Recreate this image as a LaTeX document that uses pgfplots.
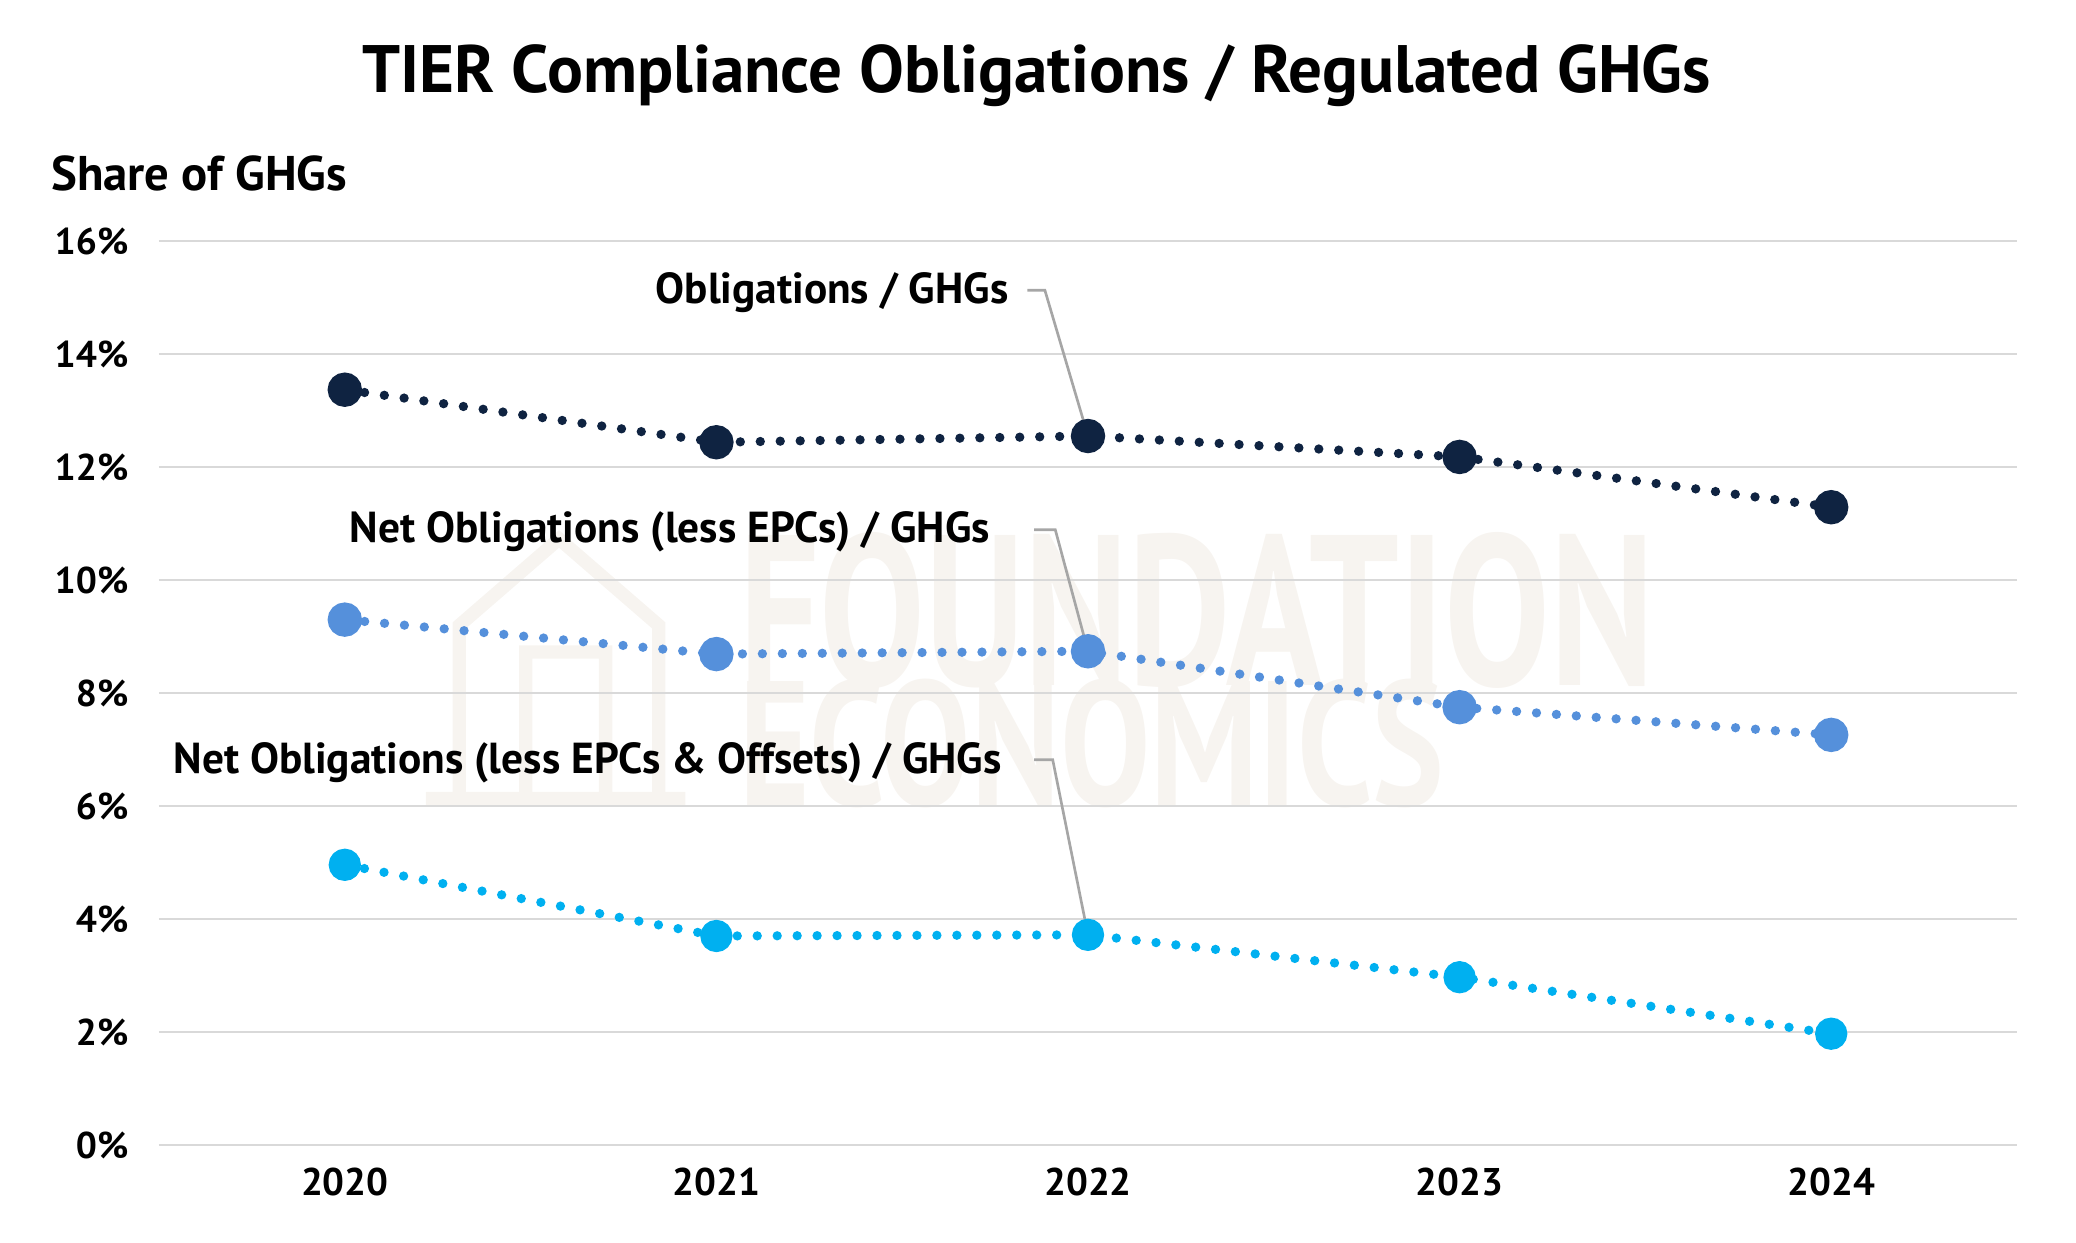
\documentclass[border=0pt]{standalone}
\usepackage{fontspec}
\setmainfont{PT Sans}
\usepackage{pgfplots}
\pgfplotsset{compat=1.18}

\definecolor{navy}{HTML}{0F2341}
\definecolor{midblue}{HTML}{5590DB}
\definecolor{skyblue}{HTML}{00B0F0}
\definecolor{leader}{HTML}{A6A6A6}
\definecolor{gridgrey}{HTML}{D9D9D9}
\definecolor{wmark}{HTML}{F7F4F0}

\newcommand{\lab}{\bfseries\fontsize{16.3}{18}\selectfont}
\newcommand{\tlab}{\bfseries\fontsize{14.5}{16}\selectfont}

\begin{document}
\begin{tikzpicture}
\path[use as bounding box] (-59.74pt,-36.45pt) rectangle (720.26pt,430.2pt);

% faint watermark
\draw[wmark, line width=5pt, line join=miter]
  (100.3pt,130.2pt) -- (197.8pt,130.2pt)
  (112.8pt,130.2pt) -- (112.8pt,195.2pt) -- (150.3pt,227.7pt) -- (187.8pt,195.2pt) -- (187.8pt,130.2pt)
  (137.8pt,130.2pt) -- (137.8pt,185.2pt) -- (167.8pt,185.2pt) -- (167.8pt,130.2pt);
\node[wmark, anchor=base west, inner sep=0pt] at (217.8pt,172.7pt)
  {\resizebox{344pt}{57.5pt}{\bfseries FOUNDATION}};
\node[wmark, anchor=base west, inner sep=0pt] at (217.8pt,127.7pt)
  {\resizebox{265pt}{47.5pt}{\bfseries ECONOMICS}};

\begin{axis}[
    at={(0,0)}, anchor=south west,
    scale only axis, width=698.1pt, height=339.6pt,
    xmin=-0.5, xmax=4.5, ymin=0, ymax=16,
    xtick={0,1,2,3,4},
    xticklabels={2020,2021,2022,2023,2024},
    ytick={0,2,...,16},
    yticklabel={\pgfmathprintnumber{\tick}\%},
    /pgf/number format/assume math mode=true,
    xticklabel style={font=\tlab, yshift=-5pt},
    yticklabel style={font=\bfseries\fontsize{14}{16}\selectfont, xshift=-8pt},
    axis line style={draw=none},
    major tick style={draw=none},
    ymajorgrids=true,
    grid style={gridgrey, line width=1pt},
    clip=false,
    every axis plot/.append style={line width=3.5pt, line cap=round,
        dash pattern=on 0pt off 7.5pt},
]
\addplot[color=skyblue, mark=*, mark size=4.3pt, mark options={solid}]
    coordinates {(0,4.96)(1,3.70)(2,3.72)(3,2.97)(4,1.97)};
\addplot[color=midblue, mark=*, mark size=4.7pt, mark options={solid}]
    coordinates {(0,9.30)(1,8.69)(2,8.74)(3,7.75)(4,7.26)};
\addplot[color=navy, mark=*, mark size=4.7pt, mark options={solid}]
    coordinates {(0,13.37)(1,12.44)(2,12.55)(3,12.18)(4,11.29)};

% leader lines and series labels
\draw[leader, line width=1pt] (axis cs:1.837,15.13) -- (axis cs:1.884,15.13) -- (axis cs:2,12.55);
\node[anchor=east, font=\lab, inner sep=0pt] at (axis cs:1.787,15.09) {Obligations / GHGs};
\draw[leader, line width=1pt] (axis cs:1.855,10.89) -- (axis cs:1.912,10.89) -- (axis cs:2,8.74);
\node[anchor=east, font=\lab, inner sep=0pt] at (axis cs:1.737,10.85) {Net Obligations (less EPCs) / GHGs};
\draw[leader, line width=1pt] (axis cs:1.855,6.82) -- (axis cs:1.905,6.82) -- (axis cs:2,3.72);
\node[anchor=east, font=\lab, inner sep=0pt] at (axis cs:1.769,6.77) {Net Obligations (less EPCs \& Offsets) / GHGs};
\end{axis}

\node[font=\bfseries\fontsize{25.2}{30}\selectfont] at (329.8pt,401.7pt)
  {TIER Compliance Obligations / Regulated GHGs};
\node[anchor=west, font=\bfseries\fontsize{18.3}{20}\selectfont, inner sep=0pt] at (-40.7pt,365.2pt)
  {Share of GHGs};
\end{tikzpicture}
\end{document}
